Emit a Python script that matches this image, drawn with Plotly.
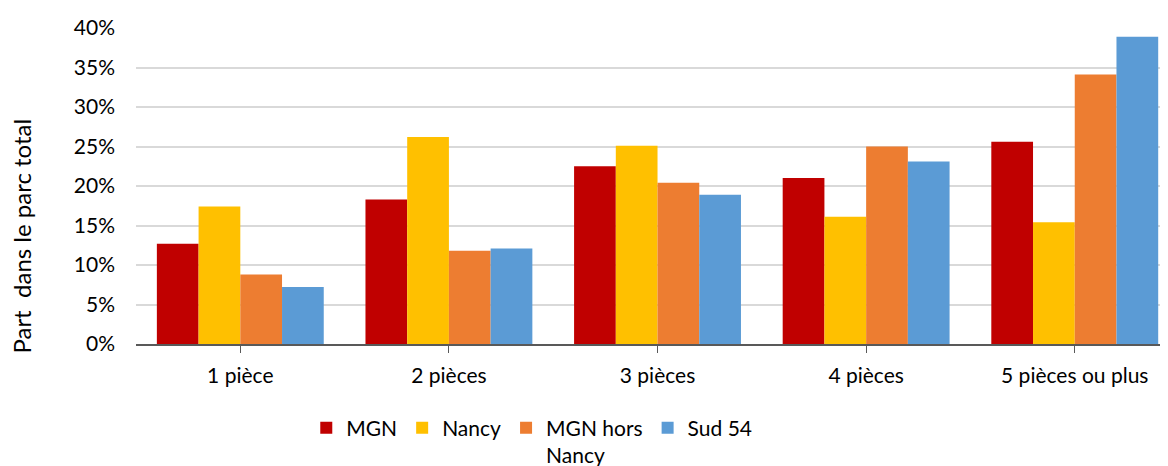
import plotly.graph_objects as go

categories = ["1 pièce", "2 pièces", "3 pièces", "4 pièces", "5 pièces ou plus"]
series_names = ["MGN", "Nancy", "MGN hors<br>Nancy", "Sud 54"]
mgn = [12.7, 18.3, 22.5, 21.0, 25.6]
nancy = [17.4, 26.2, 25.1, 16.1, 15.4]
mgn_hors = [8.8, 11.8, 20.4, 25.0, 34.1]
sud54 = [7.2, 12.1, 18.9, 23.1, 38.9]
colors = ["#C00000", "#FFC000", "#ED7D31", "#5B9BD5"]
y_ticks = [0, 5, 10, 15, 20, 25, 30, 35, 40]
y_ticklabels = [f"{v}%" for v in y_ticks]
y_title = "Part  dans le parc total"

fig = go.Figure()
for name, vals, col in zip(series_names, [mgn, nancy, mgn_hors, sud54], colors):
    fig.add_trace(go.Bar(x=list(range(len(categories))), y=vals, name=name,
                         marker=dict(color=col, line=dict(width=0))))

font = "Lato, 'Liberation Sans', sans-serif"
fig.update_layout(
    width=1160, height=458,
    barmode="group", bargap=0.2, bargroupgap=0,
    paper_bgcolor="white", plot_bgcolor="white",
    margin=dict(l=128, r=0, t=20, b=121.5, autoexpand=False),
    font=dict(family=font, size=21, color="#000000"),
    showlegend=True,
    legend=dict(orientation="h", x=0.165, xanchor="left", y=-0.201, yanchor="top",
                font=dict(size=21), traceorder="normal", itemwidth=30, valign="top"),
    xaxis=dict(
        tickmode="array", tickvals=list(range(len(categories))), ticktext=categories,
        range=[-0.5, 4.447], showgrid=False, showline=True, linecolor="#595959",
        linewidth=1.5, ticks="outside", tickson="boundaries", ticklen=7,
        tickcolor="#595959", tickfont=dict(size=21), zeroline=False,
        ticklabelstandoff=5,
    ),
    yaxis=dict(
        range=[0, 40], tickmode="array", tickvals=y_ticks, ticktext=y_ticklabels,
        showgrid=True, gridcolor="#D9D9D9", gridwidth=1.5, showline=False,
        zeroline=False, tickfont=dict(size=21), ticks="", ticklen=0,
        ticklabelstandoff=20,
    ),
    annotations=[dict(text=y_title, textangle=-90, xref="paper", yref="paper",
                      x=-0.1105, y=0.343, xanchor="center", yanchor="middle",
                      showarrow=False, font=dict(size=24))],
)

fig.write_html("out.html")
